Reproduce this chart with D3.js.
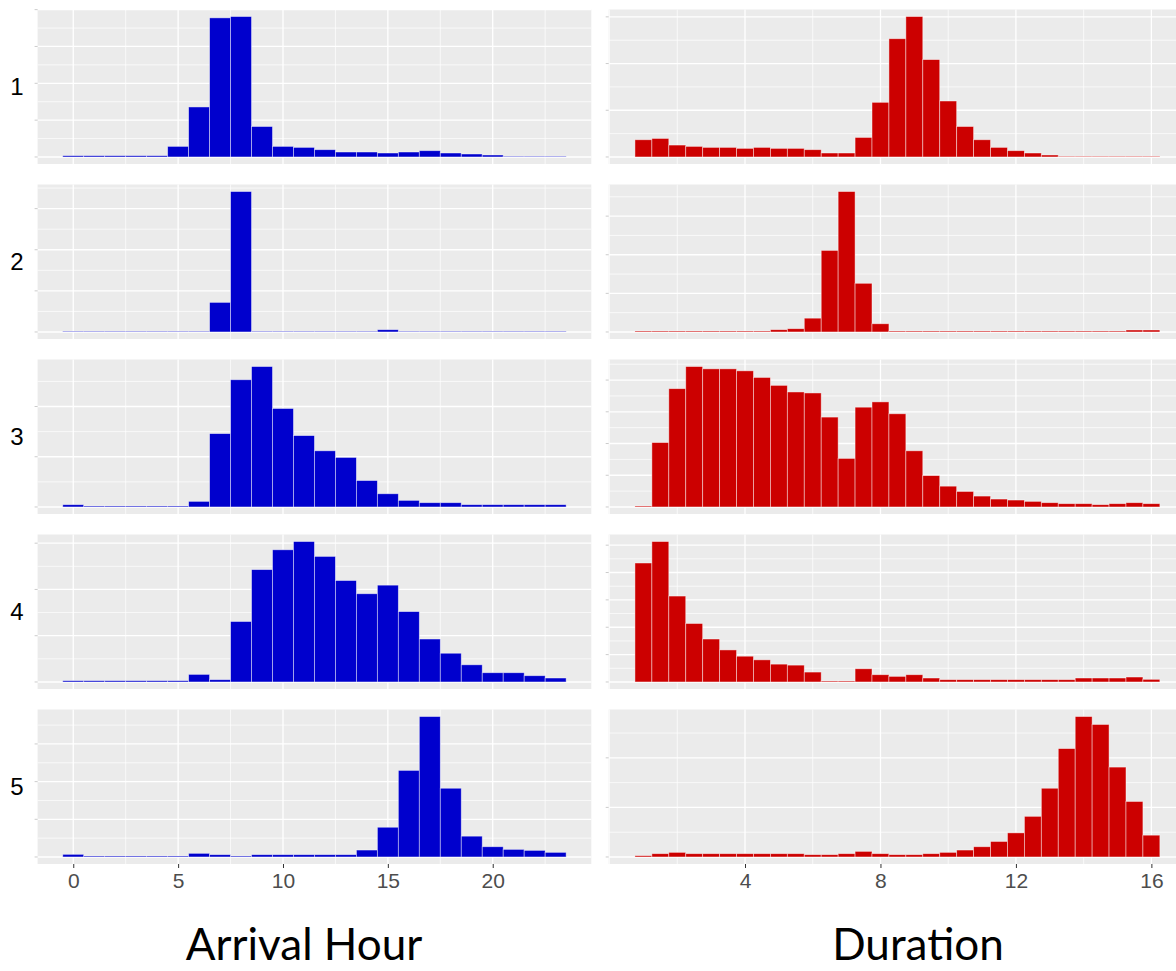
<!DOCTYPE html>
<html>
<head>
<meta charset="utf-8">
<script src="https://cdn.jsdelivr.net/npm/d3@7"></script>
<style>
  body { margin: 0; background: #fff; }
  svg { display: block; }
</style>
</head>
<body>
<div id="chart"></div>
<script>
// cluster rows
var clusters = ['1', '2', '3', '4', '5'];

// arrival hour bins (centres, width 1)
var hourBins = [0,1,2,3,4,5,6,7,8,9,10,11,12,13,14,15,16,17,18,19,20,21,22,23];
// duration bins (centres, width 0.5)
var durationBins = [1,1.5,2,2.5,3,3.5,4,4.5,5,5.5,6,6.5,7,7.5,8,8.5,9,9.5,10,10.5,11,11.5,12,12.5,13,13.5,14,14.5,15,15.5,16];

var hourTicks = [0, 5, 10, 15, 20];
var durationTicks = [4, 8, 12, 16];

// relative counts (no y labels in the original)
var arrival1 = [4,4,4,4,4,32,151,420,424,92,32,29,22,15,15,12,15,19,12,9,6,2,2,2];
var arrival2 = [2,2,2,2,2,2,2,90,427,2,2,2,2,2,2,7,2,2,2,2,2,2,2,2];
var arrival3 = [7,3,3,3,3,3,17,222,385,425,298,216,170,150,80,40,20,13,13,7,7,7,7,7];
var arrival4 = [4,4,4,4,4,4,23,7,183,340,400,425,380,307,267,293,213,130,87,52,28,28,19,12];
var arrival5 = [8,3,3,3,3,3,11,7,3,7,7,7,7,7,21,90,262,425,208,63,31,23,20,14];

var duration1 = [52,56,36,32,29,29,26,29,26,26,22,12,12,59,165,357,424,294,169,92,52,29,19,12,6,2,2,2,2,2,2];
var duration2 = [3,3,3,3,3,3,3,3,7,10,42,248,427,148,25,3,3,3,3,3,3,3,3,3,3,3,3,3,3,6,6];
var duration3 = [3,195,358,425,418,418,412,392,368,348,345,272,147,302,318,282,170,95,63,47,33,24,21,17,13,10,10,7,10,13,10];
var duration4 = [360,425,260,177,130,97,78,67,54,51,30,3,3,40,22,17,22,12,7,7,7,7,7,7,7,7,12,12,12,15,8];
var duration5 = [4,10,14,10,10,10,10,10,10,10,7,7,10,17,10,7,7,10,14,21,31,47,73,123,208,328,425,401,272,168,66];

// horizontal grid spacing per panel, in the same relative units
var arrivalGridStep = [55.6, 62.5, 76, 70, 57];
var durationGridStep = [70.5, 58.7, 48, 41.4, 75];

var arrivalSeries = [arrival1, arrival2, arrival3, arrival4, arrival5];
var durationSeries = [duration1, duration2, duration3, duration4, duration5];

var W = 1176, H = 971;
var panelTop = 9.5, panelH = 154.5, rowStep = 175;

var svg = d3.select('#chart').append('svg')
    .attr('width', W)
    .attr('height', H)
    .style('font-family', 'Liberation Sans, Arial, sans-serif');

svg.append('rect').attr('width', W).attr('height', H).attr('fill', '#fff');

var columns = [
    {
        bins: hourBins, width: 1, series: arrivalSeries, grid: arrivalGridStep,
        ticks: hourTicks, minor: [2.5, 7.5, 12.5, 17.5, 22.5],
        x: d3.scaleLinear().domain([-1.7, 24.7]).range([37.6, 591.3]),
        fill: '#0000CD', title: 'Arrival Hour', titleX: 304
    },
    {
        bins: durationBins, width: 0.5, series: durationSeries, grid: durationGridStep,
        ticks: durationTicks, minor: [0, 2, 6, 10, 14],
        x: d3.scaleLinear().domain([-0.025, 17.025]).range([608.7, 1186.1]),
        fill: '#CC0000', title: 'Duration', titleX: 918
    }
];

columns.forEach(function(col) {
    var x = col.x;
    var x0 = x.range()[0], x1 = x.range()[1];

    clusters.forEach(function(cl, i) {
        var top = panelTop + i * rowStep;
        var bottom = top + panelH;
        var vals = col.series[i];
        var ymax = d3.max(vals);
        var y = d3.scaleLinear().domain([-0.05 * ymax, 1.05 * ymax]).range([bottom, top]);

        var g = svg.append('g');

        g.append('rect')
            .attr('x', x0).attr('y', top)
            .attr('width', x1 - x0).attr('height', panelH)
            .attr('fill', '#EBEBEB');

        // horizontal grid: alternating major / minor
        var step = col.grid[i];
        var hLines = d3.range(0, 1.05 * ymax + 0.001, step);
        g.selectAll('line.hgrid').data(hLines).join('line')
            .attr('x1', x0).attr('x2', x1)
            .attr('y1', d => y(d)).attr('y2', d => y(d))
            .attr('stroke', '#fff')
            .attr('stroke-width', (d, k) => k % 2 === 0 ? 1.3 : 0.7);

        // vertical grid
        g.selectAll('line.vminor').data(col.minor).join('line')
            .attr('x1', d => x(d)).attr('x2', d => x(d))
            .attr('y1', top).attr('y2', bottom)
            .attr('stroke', '#fff').attr('stroke-width', 0.7);
        g.selectAll('line.vmajor').data(col.ticks).join('line')
            .attr('x1', d => x(d)).attr('x2', d => x(d))
            .attr('y1', top).attr('y2', bottom)
            .attr('stroke', '#fff').attr('stroke-width', 1.3);

        // bars
        g.selectAll('rect.bar').data(vals).join('rect')
            .attr('class', 'bar')
            .attr('x', (d, k) => x(col.bins[k] - col.width / 2))
            .attr('width', (d, k) => x(col.bins[k] + col.width / 2) - x(col.bins[k] - col.width / 2))
            .attr('y', d => y(d))
            .attr('height', d => y(0) - y(d))
            .attr('fill', col.fill)
            .attr('stroke', '#fff')
            .attr('stroke-opacity', 0.55)
            .attr('stroke-width', 0.8);

        // y-axis tick marks (no labels)
        g.selectAll('line.ytick').data(hLines.filter((d, k) => k % 2 === 0)).join('line')
            .attr('x1', x0 - 3).attr('x2', x0)
            .attr('y1', d => y(d)).attr('y2', d => y(d))
            .attr('stroke', '#ccc').attr('stroke-width', 1);

        if (col.title === 'Arrival Hour') {
            svg.append('text')
                .attr('x', 17).attr('y', (top + bottom) / 2)
                .attr('text-anchor', 'middle')
                .attr('dominant-baseline', 'central')
                .style('font-size', '24px')
                .attr('fill', '#000')
                .text(cl);
        }

        if (i === clusters.length - 1) {
            var axis = d3.axisBottom(x).tickValues(col.ticks).tickSize(4).tickPadding(5);
            var ax = svg.append('g').attr('transform', 'translate(0,' + bottom + ')').call(axis);
            ax.select('.domain').remove();
            ax.selectAll('.tick line').attr('stroke', '#333');
            ax.selectAll('.tick text')
                .attr('fill', '#4d4d4d')
                .style('font-size', '21px')
                .style('font-family', 'Liberation Sans, Arial, sans-serif');
        }
    });

    svg.append('text')
        .attr('x', col.titleX).attr('y', 960)
        .attr('text-anchor', 'middle')
        .style('font-family', 'Lato, sans-serif')
        .style('font-size', '44px')
        .attr('fill', '#000')
        .text(col.title);
});
</script>
</body>
</html>
